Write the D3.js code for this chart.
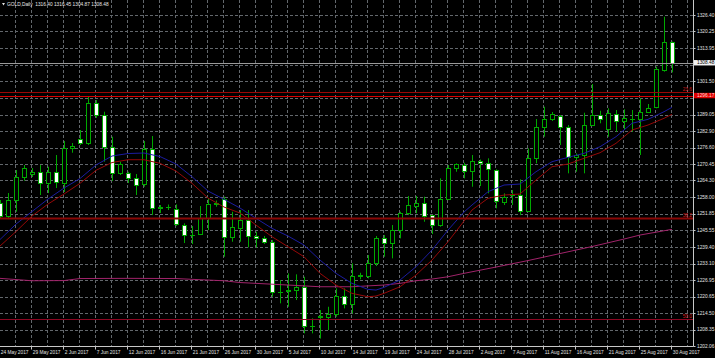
<!DOCTYPE html>
<html>
<head>
<meta charset="utf-8">
<script src="https://cdn.jsdelivr.net/npm/d3@7"></script>
<style>
  html, body { margin: 0; padding: 0; background: #000; overflow: hidden; }
  svg { display: block; }
  text { font-family: "Liberation Sans", Arial, sans-serif; font-size: 4.8px; }
</style>
</head>
<body>
<svg id="chart"></svg>
<script>
// --- Data (GOLD, Daily) ---
const openP = [1255.83,1250.95,1256.95,1265.70,1266.60,1267.46,1263.52,1267.35,1263.52,1276.36,
  1279.85,1278.24,1293.48,1288.86,1276.96,1266.98,1266.98,1265.10,1262.85,1275.99,
  1254.06,1254.33,1253.58,1247.57,1243.70,1244.08,1250.31,1255.34,1257.22,1242.95,
  1246.56,1249.45,1243.55,1242.69,1241.19,1222.42,1222.91,1223.17,1224.18,1209.54,
  1213.30,1212.92,1214.05,1220.92,1217.91,1228.43,1228.43,1233.19,1242.58,1240.70,
  1245.69,1251.96,1254.70,1255.72,1251.21,1247.57,1257.33,1268.85,1269.98,1267.95,
  1271.59,1270.73,1268.22,1256.32,1258.72,1258.83,1252.94,1272.61,1284.24,1287.25,
  1288.49,1284.47,1272.98,1273.85,1285.11,1288.86,1283.49,1289.24,1286.61,1287.25,
  1287.25,1290.10,1291.75,1305.75,1316.40];
const highP = [1256.95,1259.58,1268.22,1270.09,1268.97,1270.09,1269.45,1273.85,1279.10,1278.35,
  1283.23,1295.99,1294.49,1290.10,1280.72,1271.33,1267.58,1266.71,1279.10,1280.98,
  1255.08,1255.27,1255.34,1248.21,1247.19,1254.70,1257.70,1256.77,1258.19,1252.56,
  1253.20,1253.20,1245.05,1243.44,1241.94,1226.92,1229.44,1229.06,1228.16,1212.55,
  1215.66,1216.90,1223.81,1223.81,1233.19,1229.66,1236.31,1243.44,1243.82,1247.57,
  1252.56,1258.46,1258.46,1258.19,1251.32,1265.10,1270.09,1270.73,1270.96,1273.85,
  1272.16,1272.61,1268.48,1259.47,1260.71,1264.72,1276.36,1287.36,1291.98,1289.99,
  1288.86,1285.11,1274.48,1289.72,1300.50,1290.48,1291.38,1290.74,1291.00,1290.74,
  1295.13,1292.99,1306.99,1325.76,1316.45];
const lowP = [1250.20,1250.20,1252.56,1264.20,1265.59,1258.83,1259.58,1261.46,1259.96,1274.71,
  1277.60,1277.60,1287.74,1271.33,1264.09,1266.34,1263.34,1258.83,1261.95,1251.32,
  1252.07,1253.20,1247.19,1240.81,1240.44,1243.82,1245.69,1254.44,1235.67,1241.30,
  1241.30,1239.20,1239.20,1240.44,1220.66,1218.18,1216.90,1219.42,1206.92,1206.92,
  1204.96,1208.15,1213.15,1216.30,1214.42,1227.19,1227.56,1232.18,1235.67,1235.07,
  1242.58,1251.32,1251.96,1248.81,1244.19,1246.93,1256.95,1267.58,1265.10,1261.95,
  1262.21,1259.47,1253.84,1255.08,1255.08,1251.32,1252.56,1270.73,1280.72,1286.61,
  1277.60,1266.98,1267.58,1266.98,1284.73,1285.75,1280.72,1282.59,1283.23,1282.59,
  1273.85,1289.72,1291.38,1305.12,1304.87];
const closeP = [1250.95,1256.95,1265.59,1268.97,1267.58,1263.52,1267.35,1263.60,1276.36,1277.22,
  1278.24,1293.48,1288.86,1276.74,1267.20,1270.47,1265.32,1262.77,1275.99,1253.84,
  1254.33,1254.22,1247.94,1243.82,1243.93,1250.31,1255.34,1255.94,1243.18,1246.71,
  1249.45,1243.55,1242.58,1241.08,1222.31,1222.61,1223.17,1224.41,1209.66,1209.77,
  1213.15,1214.05,1220.92,1217.91,1228.31,1228.69,1233.19,1242.58,1240.70,1245.69,
  1252.19,1255.08,1255.72,1251.06,1247.57,1257.33,1268.85,1270.47,1267.84,1271.71,
  1270.84,1268.48,1256.69,1258.19,1258.94,1252.94,1272.61,1284.24,1287.25,1289.35,
  1284.47,1272.98,1273.85,1285.11,1288.86,1287.36,1289.50,1286.61,1287.62,1287.47,
  1290.10,1291.38,1306.02,1316.15,1308.48];

// moving averages, read at these bar indices
const maBars = [0,2,4,6,8,10,12,14,16,18,20,22,24,26,28,30,32,34,36,38,40,42,44,46,47,48,
  50,52,54,56,58,59,61,63,65,67,69,71,73,75,77,79,81,83,84];
const maBlue = [1242.13,1247.94,1252.64,1257.33,1261.46,1265.03,1270.09,1273.47,1274.41,1274.60,
  1273.28,1270.47,1265.70,1260.33,1257.22,1253.95,1250.08,1246.33,1243.44,1240.06,1234.43,
  1229.44,1225.68,1223.43,1223.17,1224.18,1226.92,1231.92,1238.18,1245.69,1252.45,1255.08,
  1260.07,1262.58,1262.96,1267.58,1271.33,1272.98,1274.48,1276.96,1280.72,1285.75,1287.25,
  1290.10,1291.75];
const maRed = [1239.69,1245.13,1250.95,1255.45,1259.21,1263.22,1268.10,1271.03,1272.08,1272.08,
  1270.73,1267.84,1263.22,1257.70,1254.33,1252.07,1247.57,1243.18,1239.42,1235.67,1229.44,
  1225.05,1221.93,1220.66,1220.92,1221.93,1224.41,1228.80,1234.43,1241.30,1249.07,1253.20,
  1257.59,1258.83,1259.21,1264.46,1269.45,1270.47,1272.61,1274.71,1278.24,1283.23,1285.11,
  1287.62,1289.12];
const slowBars = [0,4,8,10,16,22,24,28,30,32,36,40,44,48,50,52,54,56,58,62,66,70,74,78,80,84];
const maSlow = [1227.56,1226.66,1226.73,1227.49,1227.56,1227.49,1227.19,1226.66,1225.99,1225.68,
  1225.05,1224.41,1224.41,1225.05,1225.68,1226.66,1227.30,1228.16,1229.44,1231.80,1234.24,
  1236.87,1239.50,1242.31,1243.82,1245.96];

const fibLabels = ["23.6", "38.2", "50.0"];
const fibPrices = [1297.61, 1250.31, 1212.17];
const hlinePrice = 1296.17;
const lastPrice = 1308.48;

const gridPrices = [1326.40,1320.25,1313.95,1307.80,1301.50,1295.35,1289.05,1282.90,1276.60,
  1270.45,1264.30,1258.00,1251.85,1245.55,1239.40,1233.10,1226.95,1220.65,1214.50,1208.35,1202.06];
const dateLabels = ["24 May 2017","29 May 2017","2 Jun 2017","7 Jun 2017","12 Jun 2017","16 Jun 2017",
  "21 Jun 2017","26 Jun 2017","30 Jun 2017","5 Jul 2017","10 Jul 2017","14 Jul 2017","19 Jul 2017",
  "24 Jul 2017","28 Jul 2017","2 Aug 2017","7 Aug 2017","11 Aug 2017","16 Aug 2017","21 Aug 2017",
  "25 Aug 2017","30 Aug 2017"];
const dateBars = dateLabels.map((d, i) => i * 4);
const title = "GOLD,Daily  1316.40 1316.45 1304.87 1308.48";

// --- Setup ---
const width = 715, height = 358;
const plotRight = 693.5, plotBottom = 346.5;
const green = "#00a800";

const svg = d3.select("#chart").attr("width", width).attr("height", height);
svg.append("rect").attr("width", width).attr("height", height).attr("fill", "#000");

const x = d3.scaleLinear().domain([0, 84]).range([0, 672]);
const y = d3.scaleLinear().domain([1202.06, 1326.40]).range([346.3, 15]);
const px = v => Math.round(v) + 0.5;

svg.append("clipPath").attr("id", "plot")
  .append("rect").attr("x", 0).attr("y", 0).attr("width", plotRight).attr("height", plotBottom);

// --- Grid ---
const grid = svg.append("g").attr("stroke", "#62676c").attr("stroke-dasharray", "3,2").attr("stroke-width", 1);
grid.selectAll("line.v")
  .data(d3.range(0, 44))
  .enter().append("line")
  .attr("x1", k => x(2 * k) - 0.5).attr("x2", k => x(2 * k) - 0.5)
  .attr("y1", 0).attr("y2", plotBottom);
grid.selectAll("line.h")
  .data(gridPrices.slice(0, -1))
  .enter().append("line")
  .attr("x1", 0).attr("x2", plotRight)
  .attr("y1", d => px(y(d))).attr("y2", d => px(y(d)));

const plot = svg.append("g").attr("clip-path", "url(#plot)");

// --- Candles ---
const candles = plot.append("g").selectAll("g")
  .data(d3.range(openP.length))
  .enter().append("g");

candles.append("line")
  .attr("x1", i => Math.round(x(i)) + 0.5).attr("x2", i => Math.round(x(i)) + 0.5)
  .attr("y1", i => y(highP[i])).attr("y2", i => y(lowP[i]))
  .attr("stroke", green).attr("stroke-width", 1);

candles.each(function(i) {
  const g = d3.select(this);
  const cx = Math.round(x(i));
  const top = Math.round(y(Math.max(openP[i], closeP[i])));
  const bot = Math.round(y(Math.min(openP[i], closeP[i])));
  if (bot - top < 1) {
    g.append("line")
      .attr("x1", cx - 2).attr("x2", cx + 3)
      .attr("y1", top + 0.5).attr("y2", top + 0.5)
      .attr("stroke", green);
  } else {
    g.append("rect")
      .attr("x", cx - 1.5).attr("y", top + 0.5)
      .attr("width", 4).attr("height", bot - top)
      .attr("fill", closeP[i] >= openP[i] ? "#000" : "#fff")
      .attr("stroke", green).attr("stroke-width", 1);
  }
});

// --- Moving averages ---
const line = d3.line().x(d => x(d[0])).y(d => y(d[1]));
plot.append("path").datum(slowBars.map((b, i) => [b, maSlow[i]]))
  .attr("d", line).attr("fill", "none").attr("stroke", "#a0236a").attr("stroke-width", 1);
plot.append("path").datum(maBars.map((b, i) => [b, maBlue[i]]))
  .attr("d", line).attr("fill", "none").attr("stroke", "#1c1ca0").attr("stroke-width", 1);
plot.append("path").datum(maBars.map((b, i) => [b, maRed[i]]))
  .attr("d", line).attr("fill", "none").attr("stroke", "#960808").attr("stroke-width", 1);

// --- Fibonacci levels and horizontal lines ---
const fibWidths = [1, 2, 1];
const fibColors = ["#9a0606", "#8a0606", "#8c0622"];
fibPrices.forEach((p, i) => {
  plot.append("line")
    .attr("x1", 0).attr("x2", plotRight)
    .attr("y1", px(y(p))).attr("y2", px(y(p)))
    .attr("stroke", fibColors[i]).attr("stroke-width", fibWidths[i]);
  svg.append("text")
    .attr("x", 692).attr("y", y(p) - 1.2)
    .attr("text-anchor", "end")
    .attr("fill", "#d01818")
    .text(fibLabels[i]);
});

plot.append("line")
  .attr("x1", 0).attr("x2", plotRight)
  .attr("y1", px(y(hlinePrice))).attr("y2", px(y(hlinePrice)))
  .attr("stroke", "#d80000").attr("stroke-width", 1);

plot.append("line")
  .attr("x1", 0).attr("x2", plotRight)
  .attr("y1", px(y(lastPrice))).attr("y2", px(y(lastPrice)))
  .attr("stroke", "#9a9a9a").attr("stroke-width", 1);

// --- Axes ---
svg.append("line").attr("x1", plotRight).attr("x2", plotRight).attr("y1", 0).attr("y2", plotBottom)
  .attr("stroke", "#c8c8c8");
svg.append("line").attr("x1", 0).attr("x2", plotRight).attr("y1", plotBottom).attr("y2", plotBottom)
  .attr("stroke", "#c8c8c8");

const markers = [lastPrice, hlinePrice];
const yLabels = gridPrices.filter(p => markers.every(m => Math.abs(y(p) - y(m)) > 6));

const yAxis = svg.append("g");
yAxis.selectAll("line")
  .data(yLabels)
  .enter().append("line")
  .attr("x1", plotRight).attr("x2", plotRight + 2)
  .attr("y1", d => px(y(d))).attr("y2", d => px(y(d)))
  .attr("stroke", "#c8c8c8");
yAxis.selectAll("text")
  .data(yLabels)
  .enter().append("text")
  .attr("x", 697).attr("y", d => y(d))
  .attr("dy", "0.36em")
  .attr("fill", "#e0e0e0")
  .text(d => d.toFixed(2));

// price labels
[[lastPrice, "#f2f2f2", "#000"], [hlinePrice, "#e00000", "#ffd8d8"]].forEach(([p, bg, fg]) => {
  svg.append("rect")
    .attr("x", plotRight + 0.5).attr("y", y(p) - 2.7)
    .attr("width", width - plotRight).attr("height", 5.4)
    .attr("fill", bg);
  svg.append("text")
    .attr("x", 697).attr("y", y(p)).attr("dy", "0.36em")
    .attr("fill", fg)
    .text(p.toFixed(2));
});

const xAxis = svg.append("g");
xAxis.selectAll("line")
  .data(dateBars)
  .enter().append("line")
  .attr("x1", d => Math.round(x(d)) - 0.5).attr("x2", d => Math.round(x(d)) - 0.5)
  .attr("y1", plotBottom).attr("y2", plotBottom + 3)
  .attr("stroke", "#c8c8c8");
xAxis.selectAll("text")
  .data(dateLabels)
  .enter().append("text")
  .attr("x", (d, i) => x(dateBars[i]) + 0.8)
  .attr("y", 354)
  .attr("fill", "#e0e0e0")
  .text(d => d);

// --- Title ---
svg.append("path")
  .attr("d", "M2,3 L5,3 L3.5,5.5 Z")
  .attr("fill", "#e0e0e0");
svg.append("text")
  .attr("x", 7).attr("y", 5.6)
  .attr("fill", "#e8e8e8")
  .attr("xml:space", "preserve")
  .style("white-space", "pre")
  .text(title);
</script>
</body>
</html>
